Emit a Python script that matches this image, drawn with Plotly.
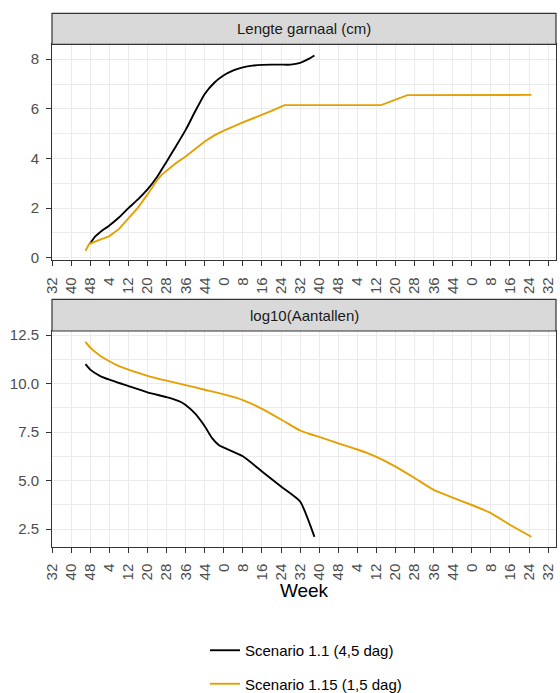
import plotly.graph_objects as go

# ---------------- data ----------------
tick_weeks = list(range(0, 209, 8))
tick_labels = ["32", "40", "48", "4", "12", "20", "28", "36", "44", "0", "8", "16", "24",
               "32", "40", "48", "4", "12", "20", "28", "36", "44", "0", "8", "16", "24", "32"]

series_names = ["Scenario 1.1 (4,5 dag)", "Scenario 1.15 (1,5 dag)"]
series_colors = ["#000000", "#E69F00"]

# Lengte garnaal (cm)
len_s1_w = [16, 18, 20, 24, 28, 32, 36, 40, 44, 48, 52, 56, 60, 64, 68, 72, 76, 80, 84, 88, 92, 96, 100, 104, 108, 110]
len_s1_v = [0.58, 0.85, 1.02, 1.3, 1.62, 2.0, 2.35, 2.75, 3.25, 3.87, 4.5, 5.15, 5.9, 6.6, 7.05, 7.35, 7.55, 7.67, 7.74, 7.77, 7.78, 7.78, 7.78, 7.85, 8.03, 8.15]

len_s2_w = [14, 15.5, 18, 24, 28, 32, 36, 40, 44, 46, 48, 52, 56, 60, 64, 68, 72, 80, 88, 92, 97.5, 138, 149, 201]
len_s2_v = [0.28, 0.55, 0.65, 0.87, 1.15, 1.57, 2.02, 2.55, 3.12, 3.35, 3.5, 3.82, 4.08, 4.38, 4.68, 4.93, 5.12, 5.45, 5.75, 5.92, 6.15, 6.15, 6.55, 6.56]

# log10(Aantallen)
num_s1_w = [14, 16, 20, 24, 32, 40, 48, 52, 54, 56, 60, 64, 67, 70, 72, 80, 88, 96, 104, 110]
num_s1_v = [11.0, 10.72, 10.4, 10.2, 9.87, 9.55, 9.3, 9.15, 9.05, 8.9, 8.45, 7.8, 7.2, 6.82, 6.7, 6.25, 5.47, 4.69, 3.92, 2.1]

num_s2_w = [14, 16, 20, 24, 28, 32, 40, 48, 56, 64, 72, 80, 88, 96, 104, 108, 112, 120, 128, 132, 136, 144, 152, 160, 168, 176, 184, 192, 201]
num_s2_v = [12.15, 11.85, 11.45, 11.15, 10.9, 10.72, 10.4, 10.15, 9.92, 9.68, 9.44, 9.15, 8.7, 8.15, 7.58, 7.4, 7.25, 6.92, 6.6, 6.43, 6.22, 5.72, 5.13, 4.52, 4.12, 3.74, 3.32, 2.72, 2.1]

# ---------------- figure ----------------
W, H = 560, 693
FONT = "Liberation Sans, Arial, sans-serif"


def py(p):
    return 1 - p / H


fig = go.Figure()

panels = [
    ("x", "y", [(len_s1_w, len_s1_v, "spline"), (len_s2_w, len_s2_v, "linear")], True),
    ("x2", "y2", [(num_s1_w, num_s1_v, "spline"), (num_s2_w, num_s2_v, "spline")], False),
]
for xa, ya, data, show in panels:
    for i, (wx, vy, shape) in enumerate(data):
        fig.add_trace(go.Scatter(
            x=wx, y=vy, xaxis=xa, yaxis=ya, mode="lines",
            line=dict(color=series_colors[i], width=1.9, shape=shape, smoothing=0.5),
            name=series_names[i], legendgroup=f"g{i}", showlegend=show,
        ))

grid = "#EBEBEB"
axcol = "#333333"
tickfont = dict(family=FONT, size=15, color="#4D4D4D")

xcommon = dict(
    range=[-0.05, 211.3], tickmode="array", tickvals=tick_weeks, ticktext=tick_labels,
    tickangle=-90, ticks="outside", ticklen=5, tickwidth=1.1, tickcolor=axcol,
    showline=True, mirror=True, linecolor=axcol, linewidth=1,
    showgrid=True, gridcolor=grid, gridwidth=1.1, zeroline=False,
    tickfont=tickfont, automargin=False, ticklabelstandoff=5,
)
ycommon = dict(
    ticks="outside", ticklen=5, tickwidth=1.1, tickcolor=axcol,
    showline=True, mirror=True, linecolor=axcol, linewidth=1,
    showgrid=True, gridcolor=grid, gridwidth=1.1, zeroline=False,
    tickfont=tickfont, automargin=False, tickmode="array", ticklabelstandoff=4,
)

fig.update_layout(
    width=W, height=H,
    margin=dict(l=52, r=4, t=0, b=0, autoexpand=False),
    plot_bgcolor="white", paper_bgcolor="white",
    font=dict(family=FONT),
    xaxis=dict(domain=[0, 1], anchor="y", **xcommon),
    xaxis2=dict(domain=[0, 1], anchor="y2", **xcommon,
                title=dict(text="Week", font=dict(family=FONT, size=19, color="#000000"), standoff=0)),
    yaxis=dict(domain=[py(260.3), py(44.3)], anchor="x", range=[-0.105, 8.6],
               tickvals=[0, 2, 4, 6, 8], ticktext=["0", "2", "4", "6", "8"],
               minor=dict(tickmode="array", tickvals=[1, 3, 5, 7], showgrid=True, gridcolor=grid, gridwidth=0.8, ticks=""),
               **ycommon),
    yaxis2=dict(domain=[py(546.7), py(331)], anchor="x2", range=[1.59, 12.71],
                tickvals=[2.5, 5, 7.5, 10, 12.5], ticktext=["2.5", "5.0", "7.5", "10.0", "12.5"],
                minor=dict(tickmode="array", tickvals=[3.75, 6.25, 8.75, 11.25], showgrid=True, gridcolor=grid, gridwidth=0.8, ticks=""),
                **ycommon),
    legend=dict(x=170 / W, xanchor="left", y=py(634), yanchor="top",
                orientation="v", tracegroupgap=11, traceorder="grouped",
                font=dict(family=FONT, size=15, color="#000000"),
                bgcolor="rgba(0,0,0,0)"),
    showlegend=True,
)

strips = [(13.3, 44.3, "Lengte garnaal (cm)"), (299.3, 331, "log10(Aantallen)")]
for top, bot, label in strips:
    fig.add_shape(type="rect", xref="paper", yref="paper", x0=0, x1=1, y0=py(bot), y1=py(top),
                  fillcolor="#D9D9D9", line=dict(color=axcol, width=1.2), layer="above")
    fig.add_annotation(xref="paper", yref="paper", x=0.5, y=py((top + bot) / 2), text=label,
                       showarrow=False, xanchor="center", yanchor="middle",
                       font=dict(family=FONT, size=15, color="#1A1A1A"))

fig.write_html("out.html")
